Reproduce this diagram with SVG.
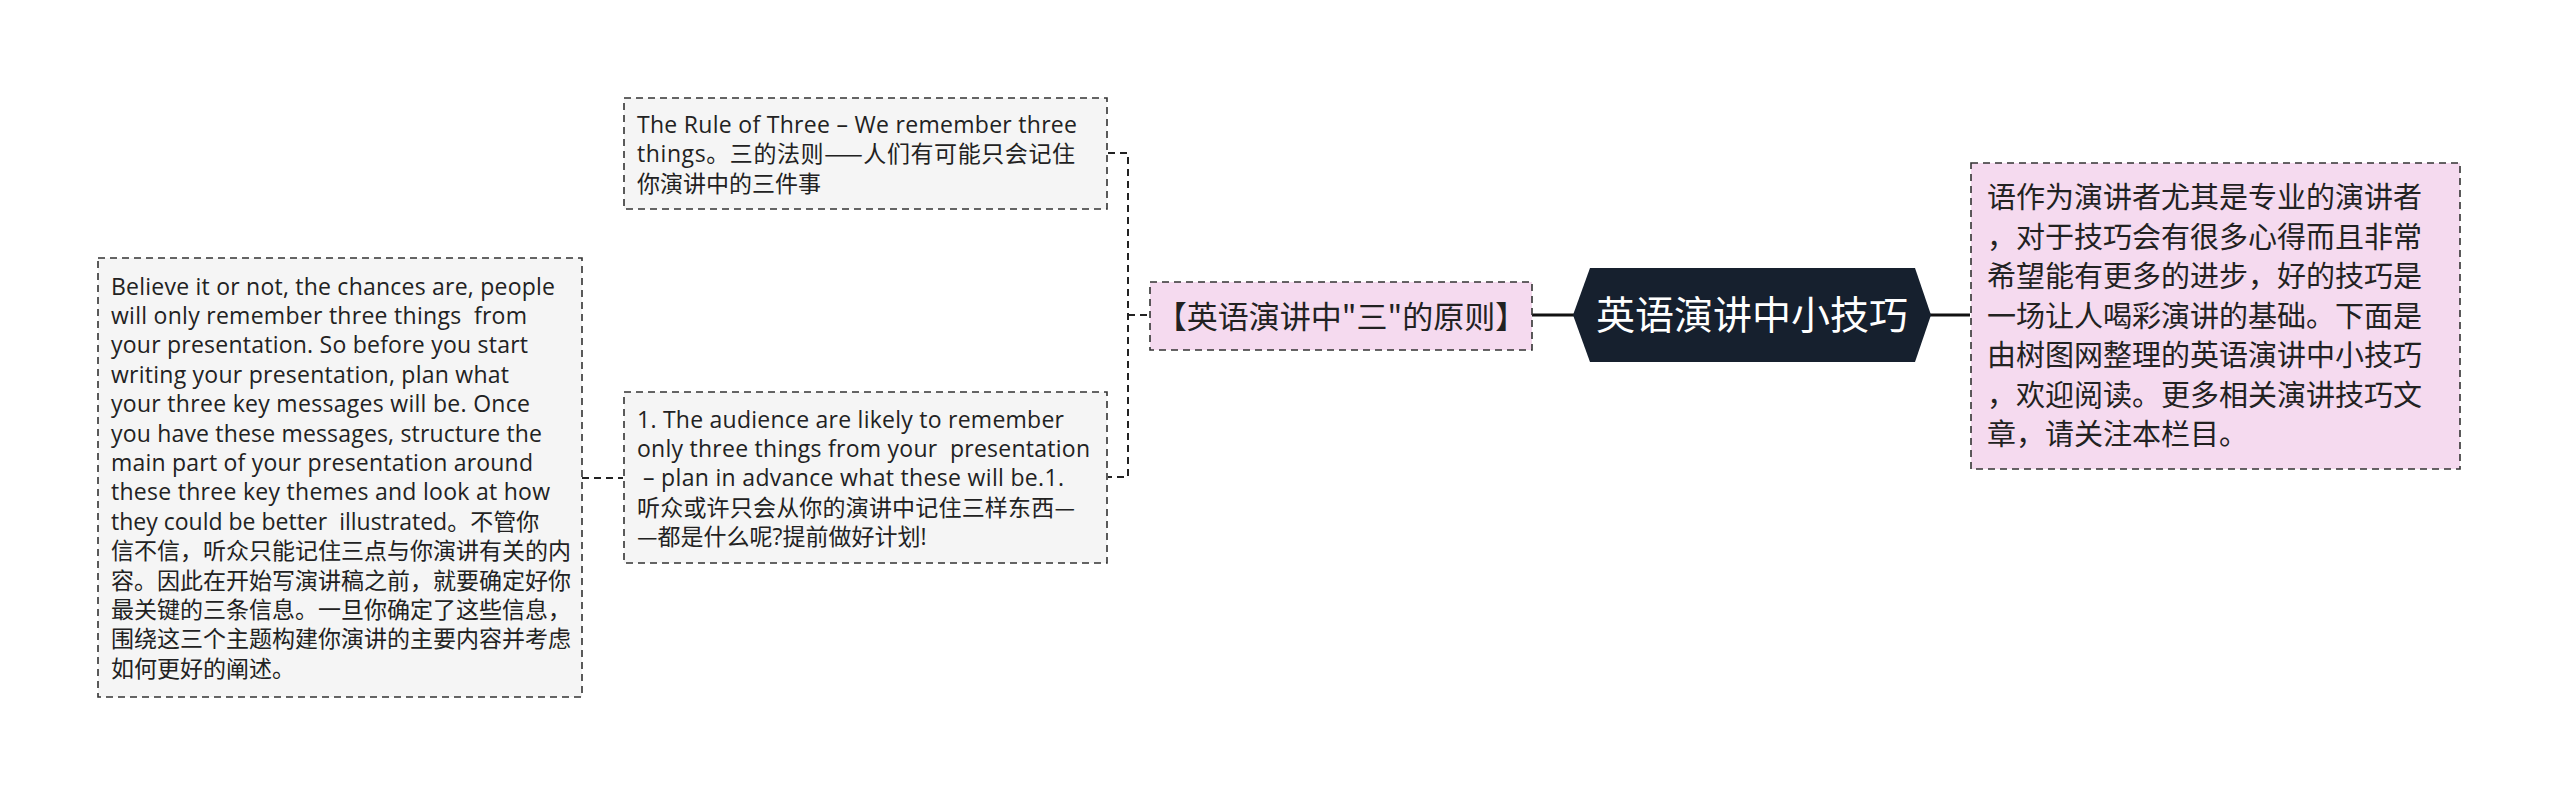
<svg xmlns="http://www.w3.org/2000/svg" width="2560" height="795" viewBox="0 0 2560 795">
<style>
.box{fill:#f5f5f5;stroke:#333;stroke-width:1.6;stroke-dasharray:7 5}
.pink{fill:#f5daef;stroke:#333;stroke-width:1.6;stroke-dasharray:7 5}
.t{font-family:"Open Sans","Noto Sans CJK SC",sans-serif;fill:#222}
.c{font-family:"Noto Sans CJK SC",sans-serif}
.s{font-size:23px}
.m{font-size:31px}
.r{font-size:29px}
.root{font-family:"Noto Sans CJK SC",sans-serif;font-size:39px;fill:#fff}
.dc{fill:none;stroke:#222;stroke-width:2;stroke-dasharray:7 5}
.sc{fill:none;stroke:#111;stroke-width:3}
</style>
<rect width="2560" height="795" fill="#fff"/>
<g id="connectors">
<path class="dc" d="M1108 153 H1128 V477 H1108"/>
<path class="dc" d="M1128 315 H1149"/>
<path class="dc" d="M582 478 H623"/>
<path class="sc" d="M1532 315 H1574"/>
<path class="sc" d="M1930 315 H1970"/>
</g>
<g id="root">
<polygon points="1573,315 1590,268 1915,268 1931,315 1915,362 1590,362" fill="#16202e"/>
<text class="root" x="1752" y="329" text-anchor="middle">英语演讲中小技巧</text>
</g>
<g id="intro">
<rect class="pink" x="1971" y="163" width="489" height="306"/>
<g class="t r">
<text x="1987" y="208">语作为演讲者尤其是专业的演讲者</text>
<text x="1987" y="247.5">，对于技巧会有很多心得而且非常</text>
<text x="1987" y="287">希望能有更多的进步，好的技巧是</text>
<text x="1987" y="326.5">一场让人喝彩演讲的基础。下面是</text>
<text x="1987" y="366">由树图网整理的英语演讲中小技巧</text>
<text x="1987" y="405.5">，欢迎阅读。更多相关演讲技巧文</text>
<text x="1987" y="445">章，请关注本栏目。</text>
</g>
</g>
<g id="rule">
<rect class="pink" x="1150" y="282" width="382" height="68"/>
<text class="t c m" x="1341" y="328" text-anchor="middle">【英语演讲中"三"的原则】</text>
</g>
<g id="rule-of-three">
<rect class="box" x="624" y="98" width="483" height="111"/>
<g class="t s">
<text x="637" y="133" textLength="440" lengthAdjust="spacing">The Rule of Three – We remember three</text>
<text x="637" y="162.4" textLength="438" lengthAdjust="spacing">things。三的法则<tspan class="c">——</tspan>人们有可能只会记住</text>
<text x="637" y="191.8">你演讲中的三件事</text>
</g>
</g>
<g id="audience">
<rect class="box" x="624" y="392" width="483" height="171"/>
<g class="t s">
<text x="637" y="427.5" textLength="427" lengthAdjust="spacing">1. The audience are likely to remember</text>
<text x="637" y="456.9" textLength="453" lengthAdjust="spacing">only three things from your&#160; presentation</text>
<text x="643" y="486.3" textLength="421" lengthAdjust="spacing">– plan in advance what these will be.1.</text>
<text x="637" y="515.7" textLength="438" lengthAdjust="spacing">听众或许只会从你的演讲中记住三样东西<tspan class="c">—</tspan></text>
<text x="637" y="545.1"><tspan class="c">—</tspan>都是什么呢?提前做好计划!</text>
</g>
</g>
<g id="believe">
<rect class="box" x="98" y="258" width="484" height="439"/>
<g class="t s">
<text x="111" y="294.5" textLength="444" lengthAdjust="spacing">Believe it or not, the chances are, people</text>
<text x="111" y="323.9" textLength="416" lengthAdjust="spacing">will only remember three things&#160; from</text>
<text x="111" y="353.3" textLength="417" lengthAdjust="spacing">your presentation. So before you start</text>
<text x="111" y="382.7" textLength="398" lengthAdjust="spacing">writing your presentation, plan what</text>
<text x="111" y="412.1" textLength="419" lengthAdjust="spacing">your three key messages will be. Once</text>
<text x="111" y="441.5" textLength="431" lengthAdjust="spacing">you have these messages, structure the</text>
<text x="111" y="470.9" textLength="422" lengthAdjust="spacing">main part of your presentation around</text>
<text x="111" y="500.3" textLength="439" lengthAdjust="spacing">these three key themes and look at how</text>
<text x="111" y="529.7">they could be better&#160; illustrated。不管你</text>
<text x="111" y="559.1">信不信，听众只能记住三点与你演讲有关的内</text>
<text x="111" y="588.5">容。因此在开始写演讲稿之前，就要确定好你</text>
<text x="111" y="617.9">最关键的三条信息。一旦你确定了这些信息，</text>
<text x="111" y="647.3">围绕这三个主题构建你演讲的主要内容并考虑</text>
<text x="111" y="676.7">如何更好的阐述。</text>
</g>
</g>
</svg>
